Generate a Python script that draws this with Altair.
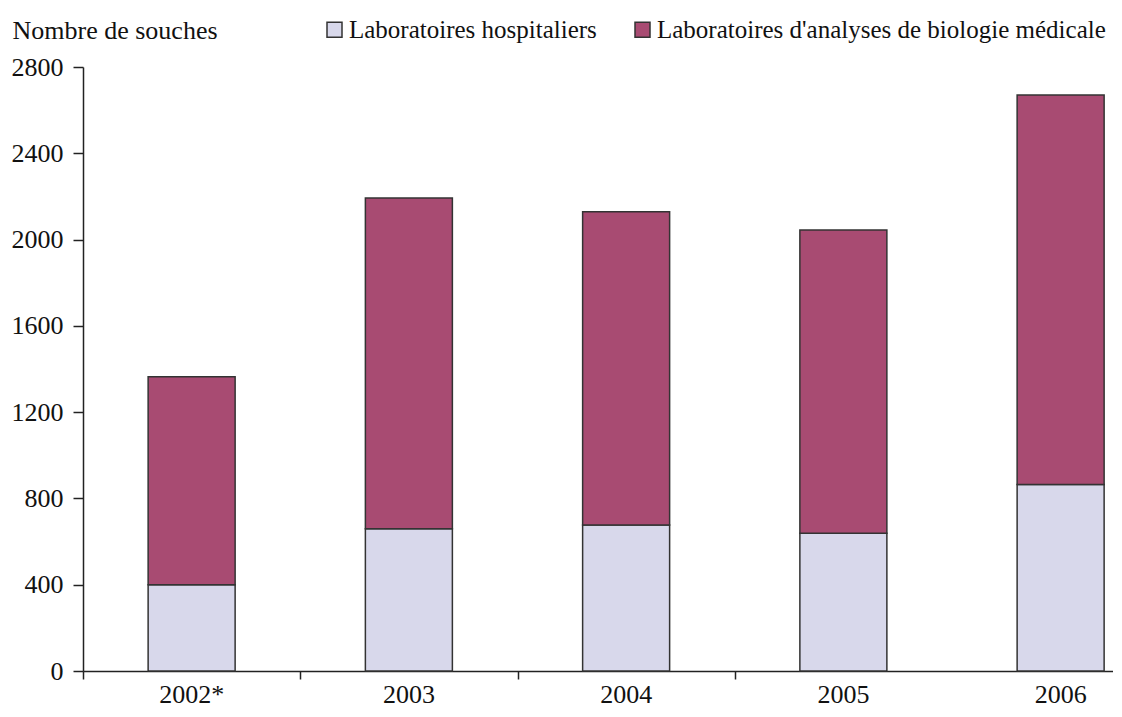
import altair as alt
import pandas as pd

years = ["2002*", "2003", "2004", "2005", "2006"]
series = ["Laboratoires hospitaliers", "Laboratoires d'analyses de biologie médicale"]
hospitaliers = [400, 660, 677, 638, 865]
biologie = [964, 1533, 1452, 1406, 1805]
y_ticks = [0, 400, 800, 1200, 1600, 2000, 2400, 2800]
colors = ["#D8D8EB", "#A84B72"]

rows = []
for i, yr in enumerate(years):
    rows.append({"idx": i, "year": yr, "serie": series[0], "ord": 0, "value": hospitaliers[i]})
    rows.append({"idx": i, "year": yr, "serie": series[1], "ord": 1, "value": biologie[i]})
df = pd.DataFrame(rows)
labels_df = pd.DataFrame({"idx": list(range(len(years))), "year": years})

FONT = "Liberation Serif"
W, H = 1030, 604
STEP = 217.25
xmax = -0.5 + W / STEP
x_scale = alt.Scale(domain=[-0.5, xmax], nice=False, zero=False, padding=0)
tick_vals = [i - 0.5 for i in range(len(years) - 1)]

bars = alt.Chart(df).mark_bar(size=87, stroke="#333333", strokeWidth=1.5).encode(
    x=alt.X(
        "idx:Q",
        scale=x_scale,
        axis=alt.Axis(values=tick_vals, labels=False, title=None, grid=False,
                      tickSize=8, tickColor="#222222", domainColor="#222222",
                      domainWidth=1.5, tickWidth=1.5),
    ),
    y=alt.Y(
        "value:Q",
        stack="zero",
        scale=alt.Scale(domain=[0, 2800], nice=False),
        axis=alt.Axis(values=y_ticks, format="d", title="Nombre de souches", grid=False,
                      tickSize=10, labelPadding=10, tickColor="#222222",
                      domainColor="#222222", domainWidth=1.5, tickWidth=1.5,
                      labelFont=FONT, labelFontSize=26, labelColor="#111111",
                      titleFont=FONT, titleFontSize=26, titleFontWeight="normal",
                      titleColor="#111111", titleAngle=0, titleAlign="left",
                      titleBaseline="alphabetic", titleX=-71, titleY=-29),
    ),
    color=alt.Color(
        "serie:N",
        scale=alt.Scale(domain=series, range=colors),
        legend=alt.Legend(orient="none", legendX=239, legendY=-50,
                          direction="horizontal", title=None,
                          symbolType="square", symbolSize=225,
                          symbolStrokeColor="#333333", symbolStrokeWidth=1.5,
                          symbolOpacity=1,
                          labelFont=FONT, labelFontSize=25, labelColor="#111111",
                          labelOffset=2, columnPadding=33, padding=0,
                          labelLimit=700),
    ),
    order=alt.Order("ord:Q"),
)

text = alt.Chart(labels_df).mark_text(
    font=FONT, fontSize=26, baseline="alphabetic", color="#111111"
).encode(
    x=alt.X("idx:Q", scale=x_scale),
    y=alt.value(H + 32),
    text="year:N",
)

chart = alt.layer(bars, text).properties(
    width=W,
    height=H,
    background="white",
    autosize=alt.AutoSizeParams(type="none"),
    padding={"left": 75, "top": 59, "right": 0, "bottom": 38},
).configure_view(stroke=None)

chart.save("out.html", embed_options={"renderer": "svg", "actions": False})
